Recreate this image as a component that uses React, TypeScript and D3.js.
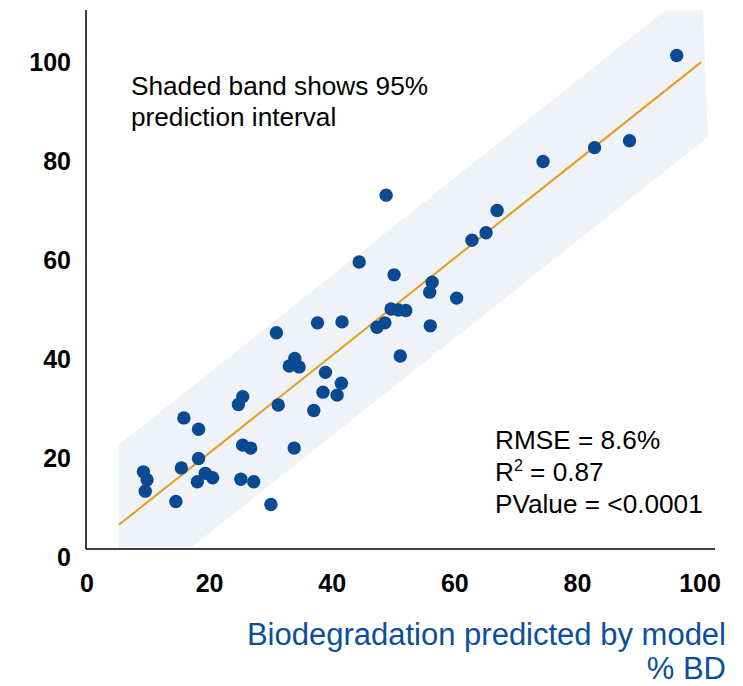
import * as d3 from "d3";

const predicted = [
  9.2, 9.8, 9.5, 14.5, 15.4, 15.8, 18.2, 18.2, 18.0, 19.3, 20.5, 24.7, 25.4,
  31.2, 25.4, 26.7, 25.1, 27.2, 30.0, 33.8, 37.0, 38.5, 40.8, 38.9, 41.5, 33.9,
  33.0, 34.6, 30.9, 37.6, 41.6, 44.4, 48.8, 50.1, 56.3, 55.9, 60.3, 49.6, 50.8,
  52.0, 48.6, 47.3, 56.0, 51.1, 62.8, 65.1, 66.9, 74.4, 82.8, 88.5, 96.2,
];
const measured = [
  17.2, 15.6, 13.3, 11.2, 18.0, 28.1, 25.8, 19.9, 15.2, 16.9, 16.0, 30.8, 32.4,
  30.7, 22.6, 22.0, 15.7, 15.2, 10.6, 22.0, 29.6, 33.3, 32.7, 37.3, 35.1, 40.1,
  38.6, 38.4, 45.3, 47.3, 47.5, 59.6, 73.1, 57.0, 55.5, 53.5, 52.3, 50.1, 49.9,
  49.8, 47.3, 46.4, 46.7, 40.6, 64.0, 65.5, 70.0, 79.9, 82.7, 84.1, 101.3,
];

const xTicks = [0, 20, 40, 60, 80, 100];
const yTicks = [0, 20, 40, 60, 80, 100];

// regression line and prediction band
const fitIntercept = 1.38;
const fitSlope = 0.984;
const bandHalfWidth = 16.2;
const bandStart = 5.2;
const bandEndTop = 100.3;
const bandEndBottom = 101.3;
const lineEnd = 100.2;

const statLines = ["RMSE = 8.6%", "R2", "PValue = <0.0001"];

export default function App() {
  const width = 743;
  const height = 686;

  const plotLeft = 86;
  const plotRight = 715;
  const plotTop = 10;
  const plotBottom = 549;

  const xScale = d3.scaleLinear().domain([0, 100]).range([87, 700]);
  const yScale = d3.scaleLinear().domain([0, 100]).range([557, 62]);

  const fit = (x: number) => fitIntercept + fitSlope * x;

  const bandPts: [number, number][] = [
    [bandStart, fit(bandStart) + bandHalfWidth],
    [bandEndTop, fit(bandEndTop) + bandHalfWidth],
    [bandEndBottom, fit(bandEndBottom) - bandHalfWidth],
    [bandStart, fit(bandStart) - bandHalfWidth],
  ];
  const band = d3
    .line<[number, number]>()
    .x((d) => xScale(d[0]))
    .y((d) => yScale(d[1]))
    .curve(d3.curveLinearClosed)(bandPts);

  const font = "'Liberation Sans', Arial, sans-serif";
  const blue = "#0a4a93";

  return (
    <svg
      width={width}
      height={height}
      style={{ position: "absolute", left: 0, top: 0, background: "#fff" }}
      fontFamily={font}
    >
      <defs>
        <clipPath id="plot">
          <rect
            x={plotLeft}
            y={plotTop}
            width={plotRight - plotLeft}
            height={plotBottom - plotTop}
          />
        </clipPath>
      </defs>

      {/* prediction band */}
      <path d={band ?? ""} fill="#eff3f8" clipPath="url(#plot)" />

      {/* fit line */}
      <line
        x1={xScale(bandStart)}
        y1={yScale(fit(bandStart))}
        x2={xScale(lineEnd)}
        y2={yScale(fit(lineEnd))}
        stroke="#e89b1e"
        strokeWidth={2}
      />

      {/* points */}
      {predicted.map((p, i) => (
        <circle
          key={i}
          cx={xScale(p)}
          cy={yScale(measured[i])}
          r={6.7}
          fill={blue}
        />
      ))}

      {/* axes */}
      <line
        x1={plotLeft}
        x2={plotLeft}
        y1={plotTop}
        y2={plotBottom}
        stroke="black"
        strokeWidth={1.5}
      />
      <line
        x1={plotLeft}
        x2={plotRight}
        y1={plotBottom}
        y2={plotBottom}
        stroke="black"
        strokeWidth={1.5}
      />

      {yTicks.map((t) => (
        <text
          key={t}
          x={71}
          y={yScale(t)}
          dy="0.35em"
          textAnchor="end"
          fontSize={25}
          fontWeight="bold"
        >
          {t}
        </text>
      ))}
      {xTicks.map((t) => (
        <text
          key={t}
          x={xScale(t)}
          y={592}
          textAnchor="middle"
          fontSize={25}
          fontWeight="bold"
        >
          {t}
        </text>
      ))}

      {/* note */}
      <text x={131} y={95} fontSize={26.2}>
        Shaded band shows 95%
      </text>
      <text x={131} y={126} fontSize={26.2}>
        prediction interval
      </text>

      {/* stats */}
      <text x={495} y={449} fontSize={26.2}>
        {statLines[0]}
      </text>
      <text x={495} y={481} fontSize={26.2}>
        R
        <tspan fontSize={16} dy={-10}>
          2
        </tspan>
        <tspan dy={10}> = 0.87</tspan>
      </text>
      <text x={495} y={513} fontSize={26.2}>
        {statLines[2]}
      </text>

      {/* axis title */}
      <text x={726} y={644.5} textAnchor="end" fontSize={31} fill="#0b4f9c">
        Biodegradation predicted by model
      </text>
      <text x={726} y={679.3} textAnchor="end" fontSize={31} fill="#0b4f9c">
        % BD
      </text>
    </svg>
  );
}
